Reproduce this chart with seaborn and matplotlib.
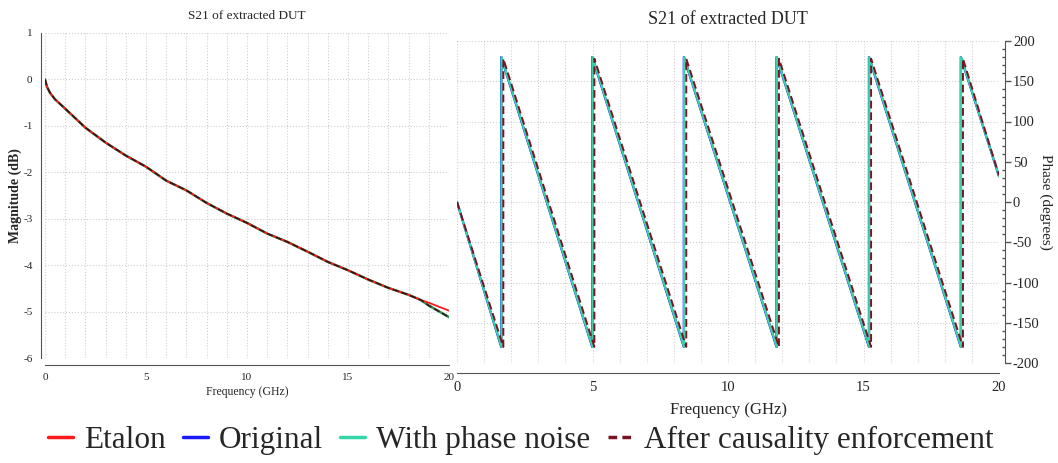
import numpy as np
import pandas as pd
import matplotlib
matplotlib.use("Agg")
import matplotlib.pyplot as plt
from matplotlib.lines import Line2D
from matplotlib.ticker import MultipleLocator
import seaborn as sns

# ---- magnitude of S21 (dB) ----
mag_freq = [0, 0.1, 0.25, 0.5, 1, 2, 3, 4, 5, 6, 7, 8, 9, 10, 11, 12, 13,
            14, 15, 16, 17, 18, 18.6, 19, 20]
mag_common = [0, -0.16, -0.29, -0.43, -0.63, -1.04, -1.36, -1.64, -1.88,
              -2.18, -2.39, -2.66, -2.89, -3.09, -3.32, -3.50, -3.71, -3.93,
              -4.11, -4.31, -4.49, -4.64, -4.75]
mag_etalon_tail = [-4.81, -4.98]
mag_extracted_tail = [-4.87, -5.12]

# ---- phase of S21 (degrees), sawtooth vertices ----
phase_teal_freq = [0, 1.64, 1.64, 5.00, 5.00, 8.38, 8.38, 11.80, 11.80,
                   15.21, 15.21, 18.60, 18.60, 20]
phase_blue_freq = [0, 1.63, 1.63, 4.99, 4.99, 8.37, 8.37, 11.79, 11.79,
                   15.20, 15.20, 18.59, 18.59, 20]
phase_dash_freq = [0, 1.71, 1.71, 5.07, 5.07, 8.46, 8.46, 11.88, 11.88,
                   15.28, 15.28, 18.67, 18.67, 20]
phase_vals = [0, -180, 180, -180, 180, -180, 180, -180, 180, -180, 180,
              -180, 180, 32]
phase_dash_vals = [0, -180, 178, -180, 178, -180, 178, -180, 178, -180, 178,
                   -180, 178, 33]

series_names = ["Etalon", "Original", "With phase noise",
                "After causality enforcement"]
colors = ["#ff1a1a", "#1a1aff", "#33d6a8", "#7a1424"]

sns.set_style("white")
plt.rcParams["font.family"] = ["Liberation Serif", "DejaVu Serif"]
plt.rcParams["axes.edgecolor"] = "#555555"

W, H = 1058, 463
fig = plt.figure(figsize=(W / 100, H / 100), dpi=100)

def px_axes(x0, x1, ytop, ybot):
    return fig.add_axes([x0 / W, (H - ybot) / H, (x1 - x0) / W, (ybot - ytop) / H])

ax1 = px_axes(45, 449, 33, 358)
ax2 = px_axes(457, 999, 41, 363)

# magnitude traces
mag_df = pd.concat([
    pd.DataFrame({"f": mag_freq, "v": mag_common + mag_extracted_tail, "s": "Original"}),
    pd.DataFrame({"f": mag_freq, "v": mag_common + mag_extracted_tail, "s": "With phase noise"}),
    pd.DataFrame({"f": mag_freq, "v": mag_common + mag_etalon_tail, "s": "Etalon"}),
    pd.DataFrame({"f": mag_freq, "v": mag_common + mag_extracted_tail, "s": "After causality enforcement"}),
])

mag_colors = {"Original": colors[1], "With phase noise": "#2f9a4a",
              "Etalon": colors[0], "After causality enforcement": "#2a1414"}
for name, lw, ls in [("Original", 1.2, "-"), ("With phase noise", 1.8, "-"),
                     ("Etalon", 1.3, "-"), ("After causality enforcement", 1.1, (0, (4, 2)))]:
    sub = mag_df[mag_df.s == name]
    sns.lineplot(data=sub, x="f", y="v", ax=ax1, color=mag_colors[name], lw=lw,
                 linestyle=ls, estimator=None, sort=False, legend=False)

# phase traces
ph_df = pd.concat([
    pd.DataFrame({"f": phase_teal_freq, "v": phase_vals, "s": "Etalon"}),
    pd.DataFrame({"f": phase_blue_freq, "v": phase_vals, "s": "Original"}),
    pd.DataFrame({"f": phase_teal_freq, "v": phase_vals, "s": "With phase noise"}),
    pd.DataFrame({"f": phase_dash_freq, "v": phase_dash_vals, "s": "After causality enforcement"}),
])
for name, lw, ls in [("Etalon", 1.3, "-"), ("Original", 1.6, "-"),
                     ("With phase noise", 1.6, "-"),
                     ("After causality enforcement", 1.4, (0, (4, 2)))]:
    sub = ph_df[ph_df.s == name]
    sns.lineplot(data=sub, x="f", y="v", ax=ax2,
                 color=colors[series_names.index(name)], lw=lw,
                 linestyle=ls, estimator=None, sort=False, legend=False)

# axes styling
for ax in (ax1, ax2):
    ax.set_xlim(0, 20)
    ax.xaxis.set_major_locator(MultipleLocator(5))
    ax.xaxis.set_minor_locator(MultipleLocator(1))
    ax.grid(True, which="major", color="#d0d0d0", lw=0.8, ls=":")
    ax.grid(True, which="minor", axis="x", color="#d0d0d0", lw=0.8, ls=":")
    ax.spines["top"].set_visible(False)
    ax.tick_params(axis="both", which="major", direction="out", length=4,
                   width=1, color="#555555", pad=2)
    ax.tick_params(axis="both", which="minor", direction="out", length=2.5,
                   width=1, color="#555555")
    ax.set_facecolor("white")

ax1.set_ylim(-6, 1)
ax1.yaxis.set_major_locator(MultipleLocator(1))
ax1.yaxis.set_minor_locator(MultipleLocator(0.2))
ax1.spines["right"].set_visible(False)
ax1.spines["left"].set_position(("outward", 3))
ax1.spines["bottom"].set_position(("outward", 5))
ax1.tick_params(axis="y", which="minor", direction="in")
ax1.tick_params(labelsize=8)
ax1.set_xticks([0, 5, 10, 15, 20])
ax1.set_xticklabels(["0", "5", "10", "15", "20"])
ax1.set_yticks(np.arange(-6, 2, 1))
ax1.set_yticklabels([f"{v}" for v in np.arange(-6, 2, 1)])
ax1.set_xlabel("Frequency (GHz)", fontsize=8.5, labelpad=3)
ax1.set_ylabel("Magnitude (dB)", fontsize=10, fontweight="bold", labelpad=1)
ax1.set_title("S21 of extracted DUT", fontsize=9.5, pad=10)

ax2.set_ylim(-200, 200)
ax2.yaxis.set_major_locator(MultipleLocator(50))
ax2.yaxis.set_minor_locator(MultipleLocator(10))
ax2.spines["left"].set_visible(False)
ax2.spines["right"].set_position(("outward", 4))
ax2.spines["bottom"].set_position(("outward", 7))
ax2.yaxis.tick_right()
ax2.yaxis.set_label_position("right")
ax2.tick_params(axis="y", which="minor", direction="in")
ax2.tick_params(labelsize=10.5)
ax2.set_yticks(np.arange(-200, 201, 50))
ax2.set_yticklabels([f"{v}" for v in np.arange(-200, 201, 50)])
ax2.set_xticks([0, 5, 10, 15, 20])
ax2.set_xticklabels(["0", "5", "10", "15", "20"])
ax2.set_xlabel("Frequency (GHz)", fontsize=12, labelpad=6)
ax2.set_ylabel("Phase (degrees)", fontsize=11, rotation=270, labelpad=9)
ax2.set_title("S21 of extracted DUT", fontsize=13, pad=12)

handles = [
    Line2D([], [], color=colors[0], lw=2.5),
    Line2D([], [], color=colors[1], lw=2.5),
    Line2D([], [], color=colors[2], lw=2.5),
    Line2D([], [], color=colors[3], lw=2.5, ls=(0, (2.5, 1.5))),
]
fig.legend(handles, series_names, loc="center", bbox_to_anchor=(0.492, 0.048),
           ncol=4, frameon=False, fontsize=22.5, handlelength=0.8,
           handletextpad=0.35, columnspacing=0.55, borderpad=0.1)

fig.savefig("out.png", dpi=100, facecolor="white")
